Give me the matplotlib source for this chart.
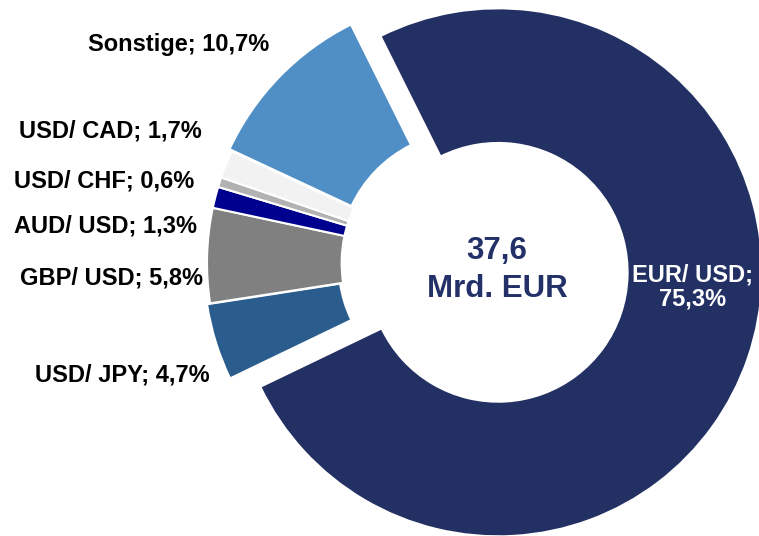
import matplotlib
matplotlib.use("Agg")
import matplotlib.pyplot as plt

# Anteile am Devisenumsatz (%), im Uhrzeigersinn ab EUR/USD
labels = ["EUR/ USD", "USD/ JPY", "GBP/ USD", "AUD/ USD", "USD/ CHF", "USD/ CAD", "Sonstige"]
shares = [75.3, 4.7, 5.8, 1.3, 0.6, 1.7, 10.7]
colors = ["#233063", "#2A5D8D", "#808080", "#00008F", "#B2B2B2", "#F2F2F2", "#4F8FC5"]
total_label = ["37,6", "Mrd. EUR"]

plt.rcParams['font.family'] = ['Liberation Sans', 'DejaVu Sans']

W, H = 759, 536
fig = plt.figure(figsize=(W / 100, H / 100), dpi=100)
ax = fig.add_axes([0, 0, 1, 1])

# pie centre and radius in pixels of the original picture
cx, cy, R = 471, 263, 264

def px(x, y):
    return (x - cx) / R, (cy - y) / R

ax.pie(shares, colors=colors, startangle=116.5, counterclock=False,
       explode=[0.109, 0.012, 0, 0, 0, 0, 0.012], radius=1,
       wedgeprops=dict(width=0.51, edgecolor='white', linewidth=1.5))

fmt = lambda v: ("%.1f" % v).replace(".", ",") + "%"

# outside labels (left side)
label_pos = {1: (122, 375), 2: (112, 278), 3: (105, 226), 4: (104, 181),
             5: (110, 131), 6: (179, 45)}
for i, (x, y) in label_pos.items():
    ax.text(*px(x, y), f"{labels[i]}; {fmt(shares[i])}", ha='center', va='center',
            fontsize=17, fontweight='bold', color='black')

# EUR/USD label inside the ring
ax.text(*px(693, 287), f"{labels[0]};\n{fmt(shares[0])}", ha='center', va='center',
        fontsize=17, fontweight='bold', color='white', linespacing=1.05)

# centre text
ax.text(*px(497, 251), total_label[0], ha='center', va='center',
        fontsize=22.5, fontweight='bold', color='#243169')
ax.text(*px(497, 289), total_label[1], ha='center', va='center',
        fontsize=22.5, fontweight='bold', color='#243169')

ax.set_xlim(-cx / R, (W - cx) / R)
ax.set_ylim(-(H - cy) / R, cy / R)
ax.set_aspect('equal')
ax.axis('off')

fig.savefig("out.png", dpi=100)
